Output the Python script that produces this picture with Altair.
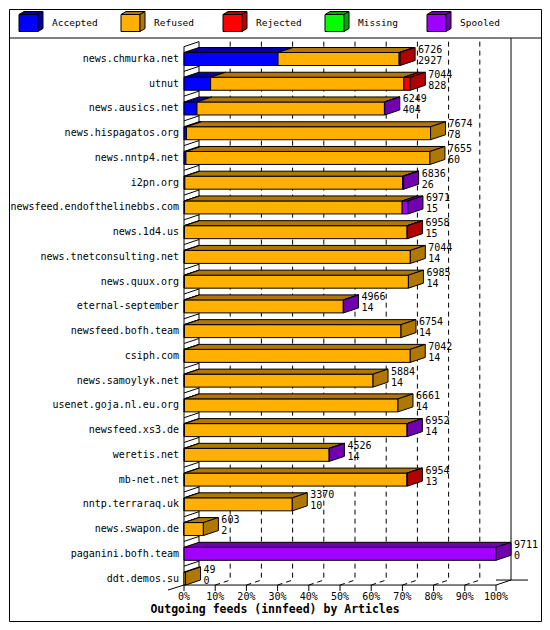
import altair as alt
import pandas as pd

# ---------------- data ----------------
hosts = ["news.chmurka.net", "utnut", "news.ausics.net", "news.hispagatos.org",
         "news.nntp4.net", "i2pn.org", "newsfeed.endofthelinebbs.com", "news.1d4.us",
         "news.tnetconsulting.net", "news.quux.org", "eternal-september",
         "newsfeed.bofh.team", "csiph.com", "news.samoylyk.net", "usenet.goja.nl.eu.org",
         "newsfeed.xs3.de", "weretis.net", "mb-net.net", "nntp.terraraq.uk",
         "news.swapon.de", "paganini.bofh.team", "ddt.demos.su"]
offered = [6726, 7044, 6249, 7674, 7655, 6836, 6971, 6958, 7044, 6985, 4966,
           6754, 7042, 5884, 6661, 6952, 4526, 6954, 3370, 603, 9711, 49]
accepted = [2927, 828, 404, 78, 60, 26, 15, 15, 14, 14, 14,
            14, 14, 14, 14, 14, 14, 13, 10, 2, 0, 0]
refused = [3769, 6016, 5835, 7596, 7595, 6780, 6776, 6928, 7030, 6971, 4944,
           6740, 7028, 5870, 6647, 6930, 4504, 6926, 3360, 601, 0, 49]
rejected = [30, 200, 0, 0, 0, 20, 0, 15, 0, 0, 0,
            0, 0, 0, 0, 0, 0, 15, 0, 0, 0, 0]
missing = [0, 0, 0, 0, 0, 0, 0, 0, 0, 0, 0,
           0, 0, 0, 0, 0, 0, 0, 0, 0, 0, 0]
spooled = [0, 0, 10, 0, 0, 10, 180, 0, 0, 0, 8,
           0, 0, 0, 0, 8, 8, 0, 0, 0, 9711, 0]
categories = ["Accepted", "Refused", "Rejected", "Missing", "Spooled"]
tick_labels = ["0%", "10%", "20%", "30%", "40%", "50%", "60%", "70%", "80%", "90%", "100%"]
tick_values = [0, 10, 20, 30, 40, 50, 60, 70, 80, 90, 100]
title_text = "Outgoing feeds (innfeed) by Articles"

# ---------------- style / layout ----------------
front_colors = ["#0000FF", "#FFB000", "#FF0000", "#00FF00", "#A000FF"]
dark_colors = ["#0000A8", "#B07800", "#B00000", "#00A800", "#7000B0"]
FONT = "DejaVu Sans Mono"

VW, VH = 532, 612
X0, PPP = 175.0, 3.12          # px of 0 %, px per percent
ROW0, ROWH = 50.0, 24.74       # px of first row centre, row pitch
DX, DY, HALF = 15.0, 5.0, 6.5  # 3-D depth and half bar height (px)


def px2x(p):
    return (p - X0) / PPP


def px2y(p):
    return (p - ROW0) / ROWH


dxd, dyd, h = DX / PPP, DY / ROWH, HALF / ROWH
axis_y = (len(hosts) - 1) + h

xs = alt.Scale(domain=[px2x(0), px2x(VW)], nice=False, zero=False)
ys = alt.Scale(domain=[px2y(0), px2y(VH)], reverse=True, nice=False, zero=False)


def X(f):
    return alt.X(f, type="quantitative", scale=xs, axis=None, stack=None)


def X2(f):
    return alt.X2(f)


def Y(f):
    return alt.Y(f, type="quantitative", scale=ys, axis=None, stack=None)


def Y2(f):
    return alt.Y2(f)


front_fill = alt.Fill("cat:N", scale=alt.Scale(domain=categories, range=front_colors), legend=None)
dark_fill = alt.Fill("cat:N", scale=alt.Scale(domain=categories, range=dark_colors), legend=None)

series = {"Accepted": accepted, "Refused": refused, "Rejected": rejected,
          "Missing": missing, "Spooled": spooled}
maxtot = max(offered)

front_rows, top_rows, side_rows = [], [], []
fid = 0
for i, host in enumerate(hosts):
    start = 0
    last = None
    for cat in categories:
        v = series[cat][i]
        if v <= 0:
            continue
        s = start / maxtot * 100
        e = (start + v) / maxtot * 100
        front_rows.append(dict(cat=cat, x=s, x2=e, y=i - h, y2=i + h))
        top_rows.append(dict(fid=fid, cat=cat, y=i - h, x=s, x2=e))
        top_rows.append(dict(fid=fid, cat=cat, y=i - h - dyd, x=s + dxd, x2=e + dxd))
        fid += 1
        start += v
        last = (cat, e)
    cat, e = last
    side_rows.append(dict(fid=fid, cat=cat, x=e, y=i - h, y2=i + h))
    side_rows.append(dict(fid=fid, cat=cat, x=e + dxd, y=i - h - dyd, y2=i + h - dyd))
    fid += 1

# legend cubes
LEG_C, LEG_W, LEG_H, LEG_D = 14.0, 19.0, 17.0, 5.0
leg_text_rows = []
for k, cat in enumerate(categories):
    L = 10 + 102 * k
    t, b = LEG_C - LEG_H / 2, LEG_C + LEG_H / 2
    front_rows.append(dict(cat=cat, x=px2x(L), x2=px2x(L + LEG_W), y=px2y(t), y2=px2y(b)))
    top_rows.append(dict(fid=fid, cat=cat, y=px2y(t), x=px2x(L), x2=px2x(L + LEG_W)))
    top_rows.append(dict(fid=fid, cat=cat, y=px2y(t - 3), x=px2x(L + LEG_D), x2=px2x(L + LEG_W + LEG_D)))
    fid += 1
    side_rows.append(dict(fid=fid, cat=cat, x=px2x(L + LEG_W), y=px2y(t), y2=px2y(b)))
    side_rows.append(dict(fid=fid, cat=cat, x=px2x(L + LEG_W + LEG_D), y=px2y(t - 3), y2=px2y(b - 3)))
    fid += 1
    leg_text_rows.append(dict(label=cat, x=px2x(L + 33), y=px2y(LEG_C)))

df_front = pd.DataFrame(front_rows)
df_top = pd.DataFrame(top_rows)
df_side = pd.DataFrame(side_rows)
df_leg = pd.DataFrame(leg_text_rows)

# structural lines
solid, dashed = [], []
solid.append(dict(x=px2x(0), x2=px2x(VW), y=px2y(29), y2=px2y(29)))          # separator
solid.append(dict(x=0, x2=0, y=-0.5, y2=axis_y))                              # front-left wall
solid.append(dict(x=dxd, x2=dxd, y=-0.5 - dyd, y2=axis_y - dyd))              # back-left wall
solid.append(dict(x=100 + dxd, x2=100 + dxd, y=px2y(29), y2=axis_y - dyd))    # right wall
for b in range(len(hosts)):
    solid.append(dict(x=0, x2=dxd, y=b - 0.5, y2=b - 0.5 - dyd))             # row ticks
solid.append(dict(x=0, x2=100, y=axis_y, y2=axis_y))                          # front axis
solid.append(dict(x=100, x2=100 + dxd, y=axis_y, y2=axis_y - dyd))
solid.append(dict(x=100, x2=100 + 32 / PPP, y=axis_y - dyd, y2=axis_y - dyd))
solid.append(dict(x=0, x2=-16 / PPP, y=axis_y, y2=axis_y + 5 / ROWH))
for v in tick_values:
    solid.append(dict(x=v, x2=v, y=axis_y, y2=axis_y + 6 / ROWH))
for v in tick_values[1:-1]:
    dashed.append(dict(x=v + dxd, x2=v + dxd, y=-0.5 - dyd, y2=axis_y - dyd))
    dashed.append(dict(x=v, x2=v + dxd, y=axis_y, y2=axis_y - dyd))
df_solid = pd.DataFrame(solid)
df_dashed = pd.DataFrame(dashed)

df_hosts = pd.DataFrame(dict(host=hosts, y=list(range(len(hosts))), x=[0] * len(hosts)))
df_vals = pd.DataFrame(dict(
    y=list(range(len(hosts))),
    x=[o / maxtot * 100 + dxd for o in offered],
    tot=[str(o) for o in offered],
    acc=[str(a) for a in accepted]))
df_ticks = pd.DataFrame(dict(x=tick_values, label=tick_labels, y=[axis_y] * len(tick_values)))
df_title = pd.DataFrame(dict(x=[px2x(VW / 2)], y=[px2y(601)], t=[title_text]))

# ---------------- layers ----------------
dashed_layer = alt.Chart(df_dashed).mark_rule(color="black", strokeWidth=1, strokeDash=[5, 4]).encode(
    x=X("x"), x2=X2("x2"), y=Y("y"), y2=Y2("y2"))
solid_layer = alt.Chart(df_solid).mark_rule(color="black", strokeWidth=1).encode(
    x=X("x"), x2=X2("x2"), y=Y("y"), y2=Y2("y2"))
front_layer = alt.Chart(df_front).mark_rect(stroke="black", strokeWidth=1).encode(
    x=X("x"), x2=X2("x2"), y=Y("y"), y2=Y2("y2"), fill=front_fill)
top_layer = alt.Chart(df_top).mark_area(orient="horizontal", stroke="black", strokeWidth=1).encode(
    y=Y("y"), x=X("x"), x2=X2("x2"), detail="fid:N", fill=dark_fill)
side_layer = alt.Chart(df_side).mark_area(orient="vertical", stroke="black", strokeWidth=1).encode(
    x=X("x"), y=Y("y"), y2=Y2("y2"), detail="fid:N", fill=dark_fill)
host_layer = alt.Chart(df_hosts).mark_text(align="right", baseline="middle", dx=-5,
                                           font=FONT, fontSize=10, color="black").encode(
    x=X("x"), y=Y("y"), text="host:N")
tot_layer = alt.Chart(df_vals).mark_text(align="left", baseline="middle", dx=3, dy=-9,
                                         font=FONT, fontSize=10, color="black").encode(
    x=X("x"), y=Y("y"), text="tot:N")
acc_layer = alt.Chart(df_vals).mark_text(align="left", baseline="middle", dx=3, dy=2,
                                         font=FONT, fontSize=10, color="black").encode(
    x=X("x"), y=Y("y"), text="acc:N")
tick_layer = alt.Chart(df_ticks).mark_text(align="center", baseline="middle", dy=12,
                                           font=FONT, fontSize=10, color="black").encode(
    x=X("x"), y=Y("y"), text="label:N")
leg_layer = alt.Chart(df_leg).mark_text(align="left", baseline="middle",
                                        font=FONT, fontSize=9.5, color="black").encode(
    x=X("x"), y=Y("y"), text="label:N")
title_layer = alt.Chart(df_title).mark_text(align="center", baseline="middle",
                                            font=FONT, fontSize=11.5, fontWeight="bold",
                                            color="black").encode(
    x=X("x"), y=Y("y"), text="t:N")

chart = alt.layer(
    dashed_layer, solid_layer, front_layer, top_layer, side_layer,
    host_layer, tot_layer, acc_layer, tick_layer, leg_layer, title_layer
).resolve_scale(fill="independent").properties(
    width=VW, height=VH, autosize=alt.AutoSizeParams(type="none"), padding=1,
    background="white"
).configure_view(stroke="black", strokeWidth=1)

chart.save("out.html", embed_options={"renderer": "svg", "actions": False})
